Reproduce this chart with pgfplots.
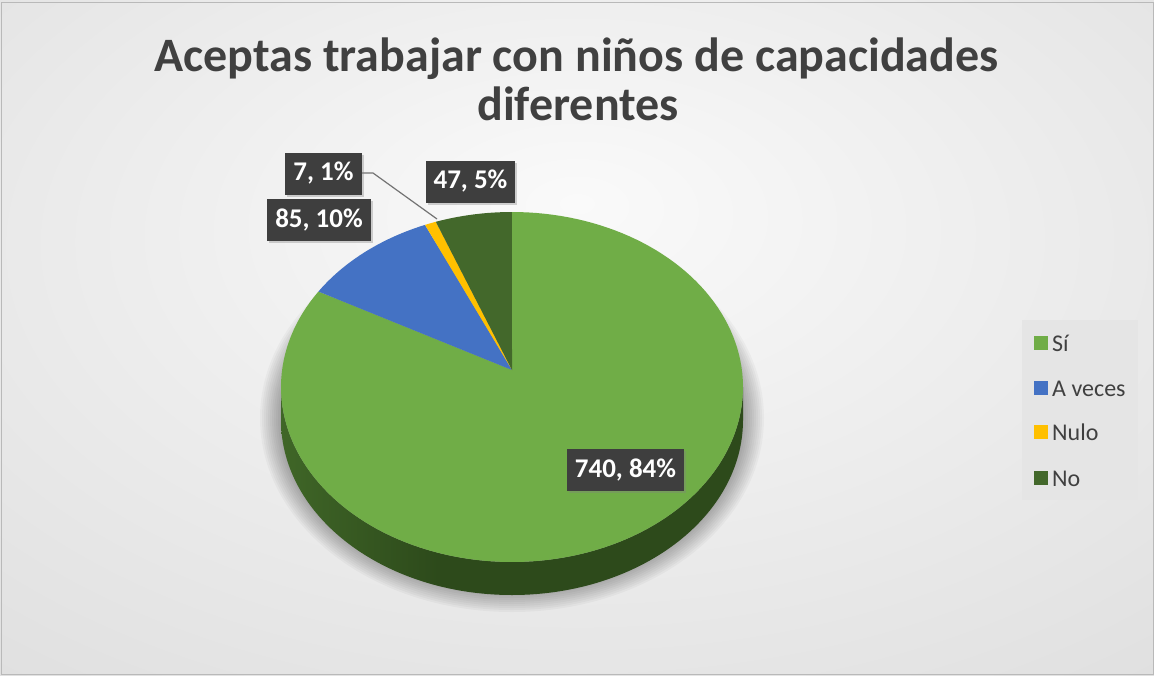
\documentclass[border=0pt]{standalone}
\usepackage{fontspec}
\setmainfont{Carlito}
\usepackage{pgfplots}
\pgfplotsset{compat=1.18}
\usepackage{pgfplotstable}
\usetikzlibrary{shadows}

\definecolor{cSi}{HTML}{70AD47}
\definecolor{cAv}{HTML}{4472C4}
\definecolor{cNu}{HTML}{FFC000}
\definecolor{cNo}{HTML}{43682B}
\definecolor{wallL}{HTML}{5A8F39}
\definecolor{wallD}{HTML}{2D4A1B}
\definecolor{titleC}{HTML}{404040}
\definecolor{lblC}{HTML}{3E3E3E}
\definecolor{bgA}{HTML}{FAFAFA}
\definecolor{bgB}{HTML}{DCDCDC}
\definecolor{bgC}{HTML}{CDCDCD}
\definecolor{legC}{HTML}{E5E5E5}

\pgfdeclareradialshading{bgshade}{\pgfpoint{0bp}{10bp}}{color(0bp)=(bgA); color(45bp)=(bgB); color(75bp)=(bgC)}
\pgfdeclarehorizontalshading{wallshade}{100bp}{color(0bp)=(wallL); color(42bp)=(wallD); color(100bp)=(wallD)}

\pgfplotstableread[col sep=comma]{
label,value
Sí,740
A veces,85
Nulo,7
No,47
}\piedata

\pgfplotstablegetelem{0}{value}\of\piedata \let\vA\pgfplotsretval
\pgfplotstablegetelem{1}{value}\of\piedata \let\vB\pgfplotsretval
\pgfplotstablegetelem{2}{value}\of\piedata \let\vC\pgfplotsretval
\pgfplotstablegetelem{3}{value}\of\piedata \let\vD\pgfplotsretval
\pgfmathsetmacro\total{\vA+\vB+\vC+\vD}
\pgfmathsetmacro\aA{\vA/\total*360}
\pgfmathsetmacro\aB{\aA+\vB/\total*360}
\pgfmathsetmacro\aC{\aB+\vC/\total*360}
\pgfmathsetmacro\aD{\aC+\vD/\total*360}

\begin{document}
\begin{tikzpicture}
\begin{axis}[
  width=1154pt, height=675pt, scale only axis,
  xmin=0, xmax=1154, ymin=0, ymax=675, y dir=reverse,
  hide axis, clip=false,
]
% background
\shade[shading=bgshade] (axis cs:0,0) rectangle (axis cs:1154,675);
\draw[color=gray!55, line width=1pt] (axis cs:1,2) rectangle (axis cs:1153,674);

% title
\node[font=\fontsize{48}{52}\selectfont\bfseries, text=titleC, anchor=base] at (axis cs:576.5,71) {Aceptas trabajar con niños de capacidades};
\node[font=\fontsize{48}{52}\selectfont\bfseries, text=titleC, anchor=base] at (axis cs:578,120) {diferentes};

% soft shadow of the pie
\pgfplotsinvokeforeach{0,...,11}{
  \fill[black, opacity=0.03] (axis cs:512,418) ellipse [x radius={252-2*#1}, y radius={194-2*#1}];
}

% side wall
\addplot[draw=none, shading=wallshade, domain=90:270, samples=120, variable=\t, forget plot]
  ({512+231*sin(\t)}, {387-175*cos(\t)})
  -- (axis cs:281,420) arc[start angle=180, end angle=360, x radius=231pt, y radius=175pt] -- cycle;

% top wedges
\addplot[draw=none, fill=cSi, domain=0:\aA, samples=150, variable=\t]
  ({512+231*sin(\t)}, {387-175*cos(\t)}) -- (axis cs:512,370) -- cycle;
\addplot[draw=none, fill=cAv, domain=\aA:\aB, samples=40, variable=\t]
  ({512+231*sin(\t)}, {387-175*cos(\t)}) -- (axis cs:512,370) -- cycle;
\addplot[draw=none, fill=cNu, domain=\aB:\aC, samples=10, variable=\t]
  ({512+231*sin(\t)}, {387-175*cos(\t)}) -- (axis cs:512,370) -- cycle;
\addplot[draw=none, fill=cNo, domain=\aC:\aD, samples=30, variable=\t]
  ({512+231*sin(\t)}, {387-175*cos(\t)}) -- (axis cs:512,370) -- cycle;

% leader line
\draw[color=gray!90!black, line width=1.2pt] (axis cs:362,173) -- (axis cs:373,173) -- (axis cs:437,219);

% data labels
\tikzset{lbl/.style={fill=lblC, text=white, font=\fontsize{27}{30}\selectfont\bfseries, inner xsep=0pt, inner ysep=0pt, minimum height=42pt, anchor=center, drop shadow={opacity=0.35, shadow xshift=2pt, shadow yshift=-2pt}}}
\node[lbl, minimum width=77pt] at (axis cs:323.5,173.5) {7, 1\%};
\node[lbl, minimum width=104pt] at (axis cs:319,220) {85, 10\%};
\node[lbl, minimum width=89pt] at (axis cs:470.5,181.5) {47, 5\%};
\node[lbl, minimum width=117pt] at (axis cs:625.5,470) {740, 84\%};

% legend
\fill[legC] (axis cs:1022,320) rectangle (axis cs:1138,500);
\fill[cSi] (axis cs:1034,336) rectangle (axis cs:1048,350);
\fill[cAv] (axis cs:1034,381) rectangle (axis cs:1048,395);
\fill[cNu] (axis cs:1034,425) rectangle (axis cs:1048,439);
\fill[cNo] (axis cs:1034,471) rectangle (axis cs:1048,485);
\tikzset{leg/.style={font=\fontsize{24}{28}\selectfont, text=titleC, anchor=base west, inner sep=0pt}}
\node[leg] at (axis cs:1052,351) {Sí};
\node[leg] at (axis cs:1052,396) {A veces};
\node[leg] at (axis cs:1052,440) {Nulo};
\node[leg] at (axis cs:1052,486) {No};
\end{axis}
\end{tikzpicture}
\end{document}
